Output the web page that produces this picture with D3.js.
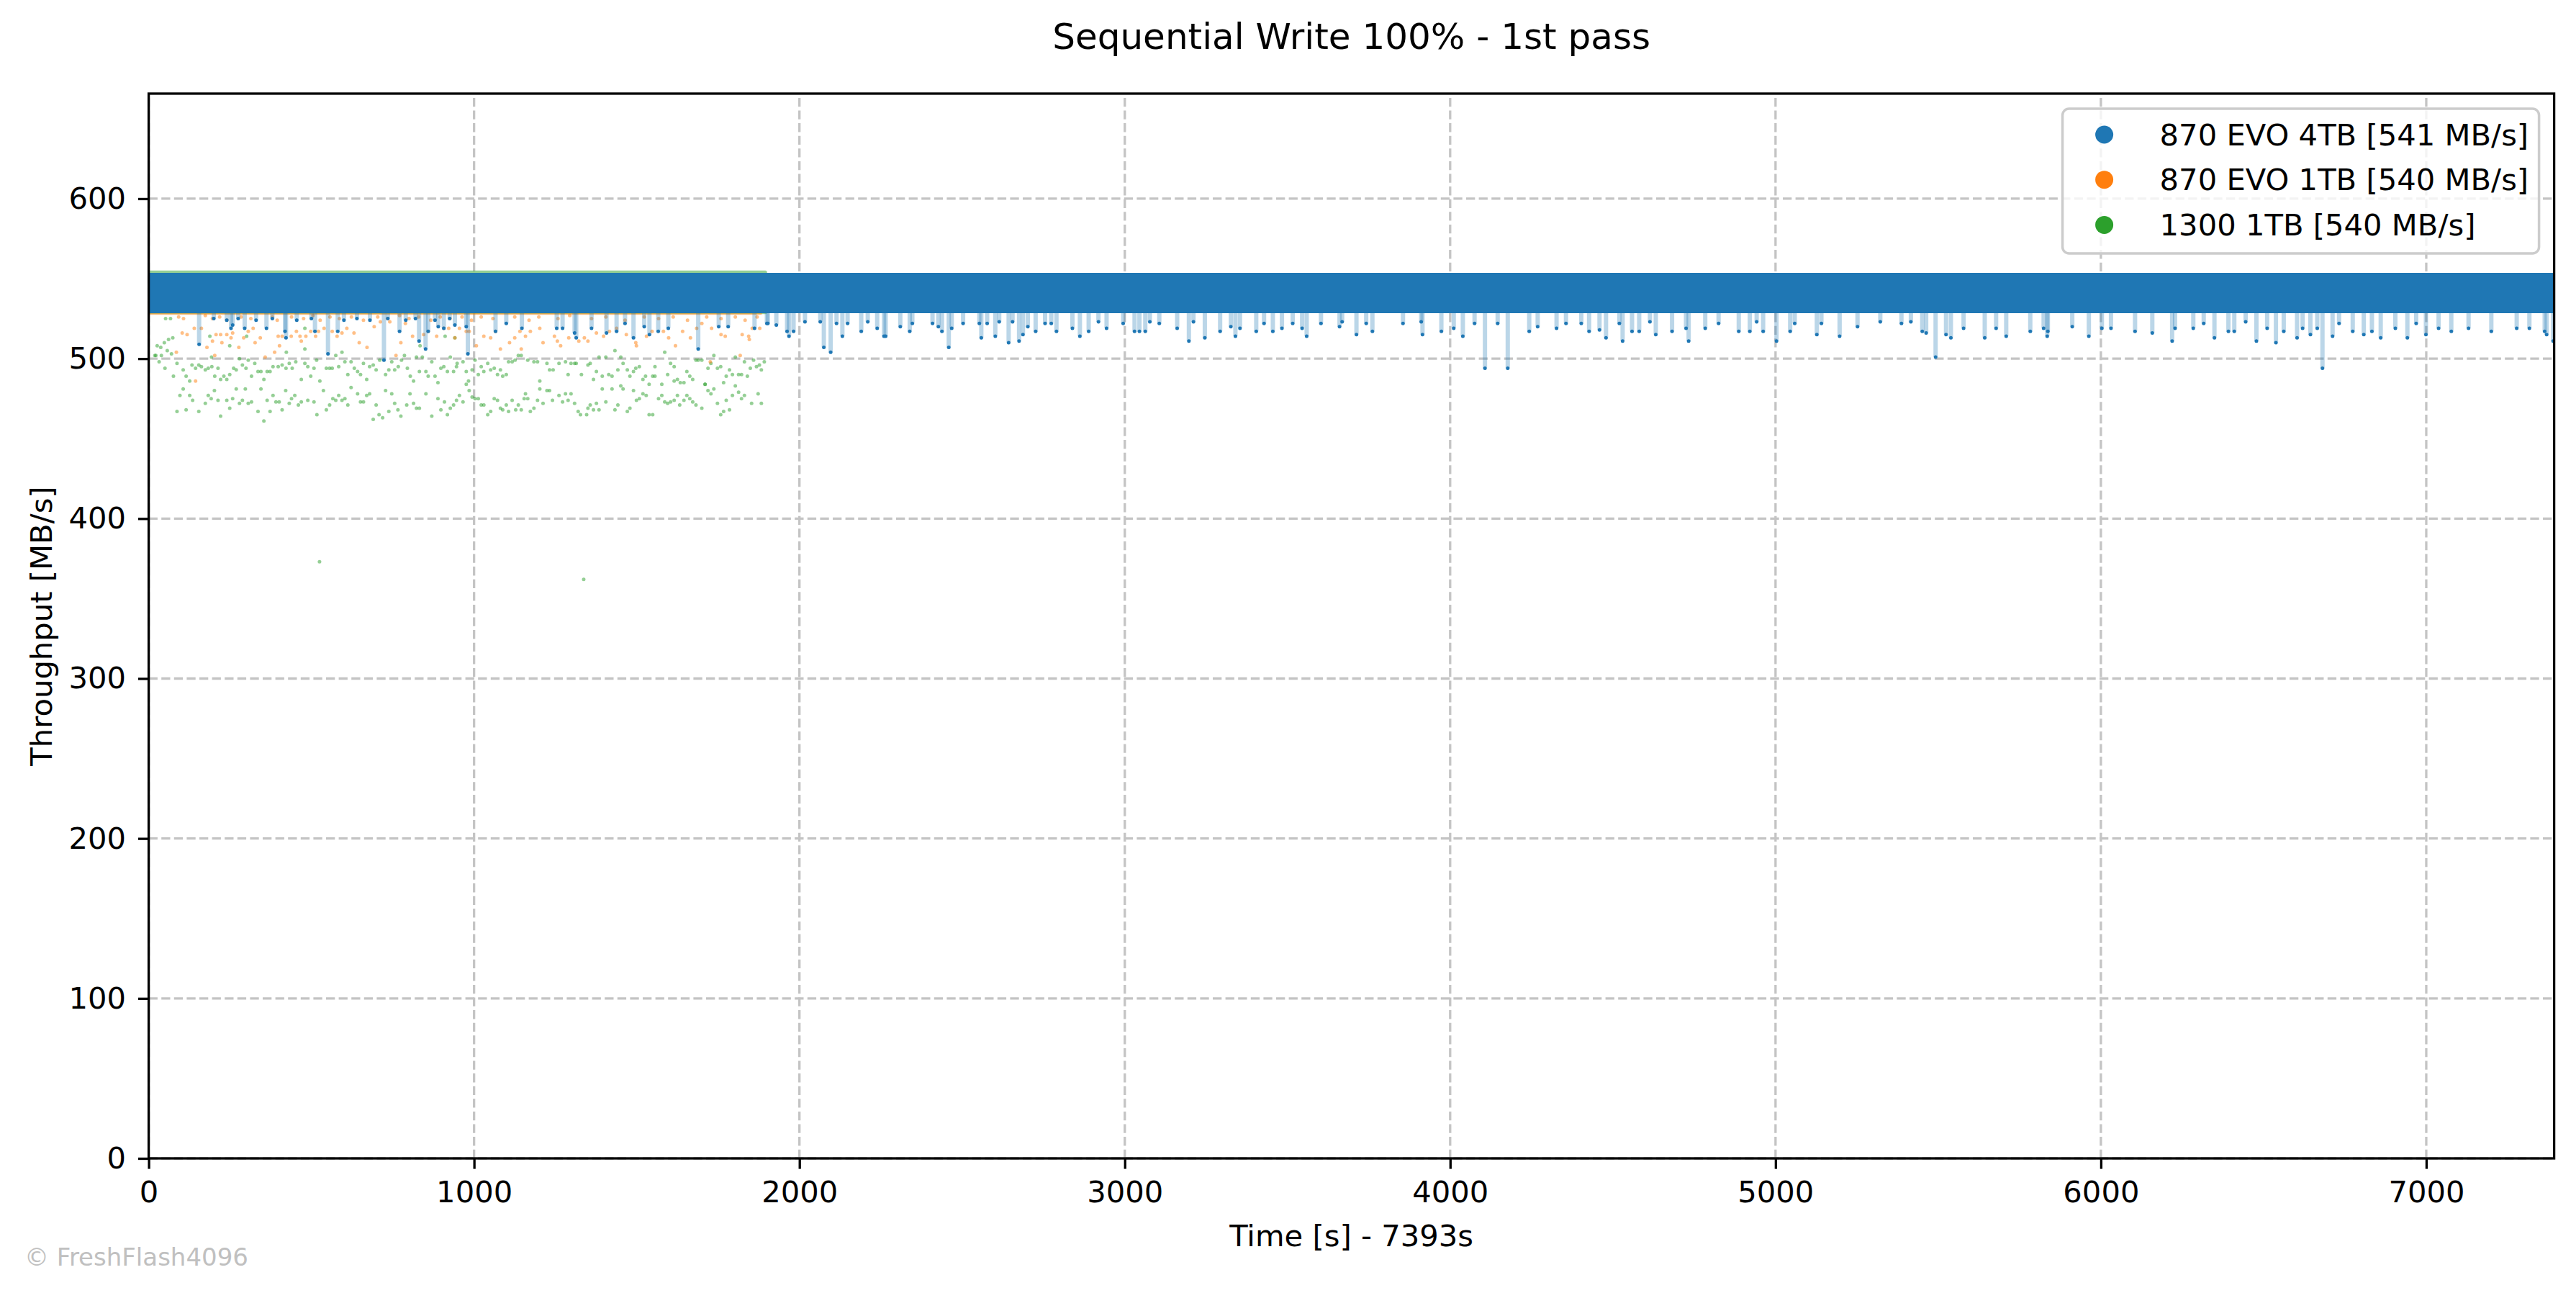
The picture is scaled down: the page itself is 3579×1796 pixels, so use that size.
<!DOCTYPE html>
<html>
<head>
<meta charset="utf-8">
<script src="https://cdnjs.cloudflare.com/ajax/libs/d3/7.8.5/d3.min.js"></script>
<style>
  body { margin: 0; background: #fff; }
  svg { display: block; }
</style>
</head>
<body>
<div id="chart"></div>
<script>
const seriesNames = ['870 EVO 4TB', '870 EVO 1TB', '1300 1TB']
const seriesAvg = [541, 540, 540]
const xTicks = [0, 1000, 2000, 3000, 4000, 5000, 6000, 7000]
const yTicks = [0, 100, 200, 300, 400, 500, 600]
const duration = 7393
const yMax = 665.7

// dense part of each run, as an envelope (s, MB/s)
const evo4BandTime = [0, 1000, 2000, 3000, 4000, 5000, 6000, 7000, 7393]
const evo4BandLo = [529.5, 529.5, 529.5, 529.5, 529.5, 529.5, 529.5, 529.5, 529.5]
const evo4BandHi = [552.5, 552.5, 552.5, 552.5, 552.5, 552.5, 552.5, 552.5, 552.5]
const evo1BandTime = [0, 1880]
const evo1BandLo = [528.5, 528.5]
const evo1BandHi = [552, 552]
const ssdBandTime = [0, 1895]
const ssdBandLo = [529, 529]
const ssdBandHi = [554, 554]

// single samples outside the dense band [s, MB/s]
const evo4Dips = [
  [155, 509], [258, 521], [253, 519], [295, 519], [362, 519], [419, 517], [422, 513], [511, 517], [551, 503], [581, 517],
  [723, 499], [771, 517], [831, 511], [851, 506], [859, 517], [890, 520], [907, 519], [941, 521],
  [200, 525], [240, 524], [275, 525], [330, 524], [380, 525], [455, 524], [500, 525], [600, 524], [640, 525], [680, 524],
  [735, 525], [790, 524], [820, 525], [880, 524], [925, 525],
  [981, 503], [1066, 517], [1314, 513], [1490, 513], [1539, 515], [1689, 506], [1903, 522], [976, 520], [1147, 519],
  [1309, 516], [1407, 516], [1438, 517], [1566, 517], [1597, 519], [1862, 519], [1752, 520], [1781, 520], [1099, 522],
  [1254, 519], [1272, 519], [1361, 519], [1464, 522], [1523, 520],
  [2075, 507], [2096, 504], [1968, 514], [2132, 514], [2459, 507], [2559, 513], [2643, 510], [2675, 511], [2687, 515],
  [2602, 514], [3197, 511], [3246, 513], [3340, 514], [3559, 514], [3712, 515], [2260, 514], [2265, 514], [2190, 517],
  [2339, 517], [1962, 517], [1982, 517], [2438, 517], [2468, 519], [2726, 517], [2790, 517], [2862, 514], [2889, 517],
  [2944, 519], [3030, 517], [3045, 517], [3063, 517], [3293, 517], [3404, 517], [3455, 517], [3483, 519], [3545, 519],
  [3660, 520], [1929, 521], [1900, 522], [2064, 523], [2114, 522], [2017, 523], [2148, 522], [2210, 523], [2239, 519],
  [2310, 520], [2347, 522], [2409, 522], [2427, 520], [2503, 522], [2553, 522], [2577, 522], [2614, 523], [2655, 523],
  [2702, 520], [2755, 522], [2774, 522], [2839, 519], [2919, 523], [2995, 522], [3077, 523], [3106, 522], [3161, 519],
  [3211, 523], [3326, 520], [3354, 519], [3428, 522], [3516, 522], [3603, 522], [3668, 523],
  [4107, 494], [4177, 494], [3761, 517], [3915, 515], [3973, 517], [4039, 514], [4011, 519], [4243, 517], [4327, 519],
  [4427, 517], [4479, 513], [4530, 511], [4559, 517], [4581, 517], [4632, 515], [4682, 517], [4733, 511], [4784, 519],
  [4887, 517], [4921, 517], [4962, 517], [5003, 511], [5045, 517], [5127, 515], [5197, 514], [5492, 501], [5463, 516],
  [5524, 515], [5539, 513], [5451, 517], [4403, 522], [4459, 518], [3911, 523], [3855, 522], [3742, 522], [4075, 522],
  [4146, 522], [4269, 520], [4356, 522], [4520, 522], [4614, 523], [4725, 519], [4825, 522], [4942, 523], [5059, 522],
  [5141, 522], [5252, 520], [5322, 523], [5387, 522], [5416, 523],
  [6681, 494], [5643, 513], [5709, 514], [5835, 514], [5963, 514], [6219, 511], [6349, 513], [6478, 511], [6538, 510],
  [6603, 513], [6712, 514], [6860, 513], [6942, 513], [6999, 515], [7370, 515], [7390, 511], [5578, 519], [5678, 519],
  [5783, 517], [5824, 519], [5837, 517], [5912, 520], [6003, 519], [6031, 519], [6105, 517], [6158, 516], [6228, 519],
  [6284, 519], [6316, 522], [6392, 517], [6410, 517], [6445, 523], [6511, 519], [6562, 517], [6620, 519], [6644, 515],
  [6665, 519], [6732, 522], [6774, 517], [6808, 515], [6833, 517], [6905, 519], [6969, 522], [7038, 519], [7077, 517],
  [7130, 519], [7200, 517], [7278, 519], [7317, 519], [7364, 517]
]

const evo1Points = [
  [103, 516], [118, 515], [85, 504], [140, 519], [162, 519], [179, 507], [196, 511], [203, 502], [207, 515], [221, 515],
  [225, 510], [240, 515], [253, 513], [258, 516], [277, 507], [292, 513], [306, 517], [321, 519], [327, 510], [343, 513],
  [358, 501], [387, 504], [398, 514], [402, 508], [410, 514], [438, 514], [454, 517], [465, 514], [469, 511], [483, 514],
  [498, 517], [513, 514], [522, 517], [539, 519], [564, 517], [579, 514], [594, 516], [609, 519], [631, 516], [647, 510],
  [671, 507], [693, 520], [712, 523], [741, 523], [760, 502], [775, 510], [789, 522], [811, 514], [845, 515], [859, 517],
  [885, 514], [907, 519], [922, 519], [941, 513], [144, 486],
  [955, 519], [976, 517], [985, 517], [1007, 508], [1030, 514], [1051, 513], [1066, 517], [1081, 506], [1109, 510],
  [1125, 513], [1141, 517], [1145, 506], [1158, 514], [1173, 517], [1202, 519], [1212, 510], [1247, 514], [1256, 511],
  [1266, 508], [1291, 513], [1322, 511], [1339, 513], [1350, 511], [1376, 516], [1398, 514], [1416, 517], [1438, 519],
  [1468, 515], [1497, 510], [1499, 508], [1530, 514], [1547, 517], [1582, 517], [1598, 513], [1619, 508], [1641, 517],
  [1665, 513], [1684, 519], [1700, 522], [1726, 498], [1730, 519], [1759, 515], [1772, 514], [1818, 502], [1824, 515],
  [1844, 514], [1846, 512], [1855, 519], [1878, 519],
  [92, 526], [107, 525], [174, 527], [196, 525], [218, 526], [240, 524], [284, 526], [314, 525], [380, 526], [395, 524],
  [439, 526], [476, 525], [505, 527], [527, 524], [557, 526], [586, 525], [623, 526], [660, 524], [704, 526], [734, 525],
  [771, 527], [800, 525], [830, 526], [867, 524], [896, 526], [926, 525], [963, 526], [992, 524], [1022, 526], [1058, 525],
  [1125, 526], [1169, 524], [1199, 526], [1258, 525], [1294, 527], [1361, 525], [1405, 526], [1464, 524], [1523, 526],
  [1567, 525], [1612, 526], [1656, 524], [1715, 526], [1759, 525], [1803, 526], [1833, 524], [1870, 526]
]

const ssdPoints = [
  [19, 502], [26, 508], [37, 507], [48, 510], [61, 512], [74, 513], [57, 505], [22, 502], [39, 502], [70, 503],
  [52, 525], [67, 525], [193, 501], [188, 514], [249, 508], [301, 514], [423, 504], [480, 519], [480, 506], [594, 504],
  [575, 502], [786, 502], [834, 508], [911, 514], [941, 513],
  [32, 498], [50, 494], [76, 489], [87, 497], [106, 493], [115, 489], [126, 486], [133, 496], [144, 494], [154, 496],
  [162, 495], [174, 493], [183, 494], [194, 495], [203, 489], [213, 494], [221, 487], [231, 489], [240, 487], [249, 490],
  [261, 494], [269, 493], [279, 500], [288, 496], [299, 494], [306, 499], [316, 489], [326, 497], [336, 492], [345, 492],
  [354, 487], [364, 492], [373, 492], [382, 495], [398, 495], [410, 496], [422, 494], [432, 497], [441, 494], [452, 498],
  [469, 487], [480, 497], [489, 495], [498, 489], [508, 494], [516, 499], [526, 486], [546, 494], [556, 494], [564, 494],
  [584, 495], [603, 498], [612, 490], [622, 498], [632, 494], [642, 492], [651, 490], [660, 497], [670, 487], [679, 495],
  [690, 496], [699, 493], [710, 499], [728, 490], [738, 493], [747, 498], [756, 493], [767, 495], [777, 499], [795, 494],
  [804, 489], [814, 486], [823, 501], [832, 492], [841, 501], [852, 492], [859, 489], [870, 498], [880, 489], [889, 485],
  [898, 494], [907, 495], [918, 492], [927, 501], [937, 492], [946, 495],
  [106, 481], [96, 477], [87, 467], [115, 468], [126, 477], [135, 474], [154, 467], [174, 472], [183, 477], [192, 475],
  [202, 480], [213, 474], [221, 464], [240, 474], [249, 469], [258, 475], [269, 481], [279, 472], [288, 474], [297, 481],
  [306, 472], [316, 473], [336, 467], [345, 481], [354, 461], [364, 474], [373, 467], [382, 477], [391, 473], [401, 473],
  [410, 468], [421, 480], [432, 472], [439, 475], [449, 477], [460, 471], [469, 473], [489, 474], [508, 473], [517, 465],
  [537, 480], [546, 468], [556, 471], [566, 475], [575, 474], [584, 477], [594, 474], [603, 475], [612, 471], [622, 482],
  [642, 478], [651, 473], [660, 473], [670, 477], [679, 478], [690, 462], [699, 471], [708, 465], [719, 463], [728, 480],
  [738, 467], [747, 478], [756, 472], [766, 468], [775, 464], [793, 471], [803, 478], [814, 472], [823, 469], [832, 469],
  [852, 478], [870, 464], [889, 475], [898, 468], [909, 473], [918, 465], [927, 469], [937, 471], [946, 474],
  [948, 497], [966, 498], [976, 492], [983, 486], [994, 493], [1003, 499], [1013, 490], [1022, 495], [1030, 492],
  [1042, 497], [1051, 493], [1062, 494], [1072, 490], [1081, 493], [1088, 489], [1099, 490], [1106, 498], [1117, 498],
  [1126, 499], [1136, 502], [1145, 502], [1165, 499], [1184, 498], [1195, 498], [1202, 486], [1224, 497], [1232, 493],
  [1243, 493], [1261, 497], [1281, 498], [1289, 490], [1298, 497], [1309, 497], [1314, 497], [1330, 490], [1350, 496],
  [1357, 497], [1367, 487], [1376, 492], [1384, 501], [1394, 489], [1405, 501], [1414, 490], [1424, 489], [1433, 505],
  [1442, 493], [1451, 501], [1458, 497], [1471, 493], [1479, 489], [1490, 492], [1497, 494], [1508, 495], [1519, 487],
  [1527, 489], [1538, 484], [1549, 489], [1556, 489], [1556, 495], [1577, 484], [1586, 504], [1595, 490], [1604, 497],
  [1615, 495], [1615, 486], [1625, 487], [1634, 485], [1645, 485], [1654, 492], [1663, 489], [1672, 487], [1682, 499],
  [1689, 499], [1700, 499], [1710, 484], [1719, 494], [1728, 497], [1737, 502], [1748, 494], [1758, 495], [1767, 485],
  [1775, 489], [1785, 493], [1794, 490], [1803, 501], [1813, 490], [1822, 490], [1831, 498], [1840, 489], [1849, 494],
  [1859, 499], [1868, 495], [1877, 496], [1883, 493], [1892, 498],
  [955, 477], [966, 473], [976, 484], [985, 480], [994, 476], [1003, 475], [1013, 475], [1022, 471], [1030, 471],
  [1042, 465], [1051, 467], [1062, 475], [1072, 474], [1081, 469], [1088, 468], [1099, 471], [1106, 467], [1117, 474],
  [1128, 468], [1136, 471], [1145, 468], [1154, 475], [1158, 478], [1165, 475], [1173, 467], [1184, 469], [1195, 474],
  [1202, 481], [1212, 472], [1224, 480], [1232, 480], [1241, 474], [1261, 477], [1272, 473], [1281, 478], [1289, 474],
  [1298, 478], [1309, 472], [1320, 467], [1327, 465], [1346, 465], [1350, 469], [1357, 471], [1367, 468], [1376, 472],
  [1384, 468], [1394, 481], [1405, 473], [1424, 481], [1433, 468], [1442, 471], [1451, 483], [1458, 481], [1471, 467],
  [1479, 469], [1490, 480], [1499, 474], [1508, 475], [1519, 478], [1529, 477], [1538, 465], [1549, 465], [1567, 475],
  [1577, 477], [1586, 473], [1595, 472], [1604, 473], [1615, 474], [1625, 477], [1632, 471], [1645, 474], [1654, 477],
  [1663, 475], [1672, 473], [1682, 471], [1700, 469], [1710, 484], [1719, 480], [1728, 478], [1737, 481], [1748, 472],
  [1758, 465], [1767, 467], [1775, 474], [1785, 468], [1794, 477], [1803, 483], [1813, 479], [1822, 475], [1831, 477],
  [1853, 472], [1873, 478], [1883, 472],
  [525, 373], [1337, 362]
]

const colors = ['#1f77b4', '#ff7f0e', '#2ca02c']
const font = "'DejaVu Sans', sans-serif"
const W = 3579
const H = 1796
const margin = { left: 206.6, right: 30.4, top: 130, bottom: 187 }
const dotR = 2.5

const x = d3.scaleLinear().domain([0, duration]).range([margin.left, W - margin.right])
const y = d3.scaleLinear().domain([0, yMax]).range([H - margin.bottom, margin.top])

const svg = d3.select('#chart')
  .append('svg')
  .attr('width', W)
  .attr('height', H)
  .style('font-family', font)

svg.append('rect').attr('width', W).attr('height', H).attr('fill', '#fff')

svg.append('defs')
  .append('clipPath')
  .attr('id', 'plot-clip')
  .append('rect')
  .attr('x', margin.left)
  .attr('y', margin.top)
  .attr('width', W - margin.left - margin.right)
  .attr('height', H - margin.top - margin.bottom)

// grid
const grid = svg.append('g')
  .attr('stroke', '#c4c4c4')
  .attr('stroke-width', 3.3)
  .attr('stroke-dasharray', '12.3,5.3')

grid.selectAll('.gx')
  .data(xTicks)
  .join('line')
  .attr('class', 'gx')
  .attr('x1', d => x(d))
  .attr('x2', d => x(d))
  .attr('y1', y(0))
  .attr('y2', y(yMax))

grid.selectAll('.gy')
  .data(yTicks)
  .join('line')
  .attr('class', 'gy')
  .attr('y1', d => y(d))
  .attr('y2', d => y(d))
  .attr('x1', x(0))
  .attr('x2', x(duration))

const plot = svg.append('g').attr('clip-path', 'url(#plot-clip)')

const band = (times, lo, hi) => times.map((t, i) => ({ t, lo: lo[i], hi: hi[i] }))
const area = d3.area()
  .x(d => x(d.t))
  .y0(d => y(d.lo))
  .y1(d => y(d.hi))

const drawBand = (data, color, opacity) => {
  plot.append('path')
    .datum(data)
    .attr('d', area)
    .attr('fill', color)
    .attr('stroke', color)
    .attr('stroke-width', dotR * 2)
    .attr('stroke-linejoin', 'round')
    .attr('opacity', opacity)
}

const drawDots = (data, color, opacity) => {
  plot.append('g')
    .selectAll('circle')
    .data(data)
    .join('circle')
    .attr('cx', d => x(d[0]))
    .attr('cy', d => y(d[1]))
    .attr('r', dotR)
    .attr('fill', color)
    .attr('fill-opacity', opacity)
}

// 1300 1TB
drawBand(band(ssdBandTime, ssdBandLo, ssdBandHi), colors[2], 0.5)
drawDots(ssdPoints, colors[2], 0.5)

// 870 EVO 1TB
drawBand(band(evo1BandTime, evo1BandLo, evo1BandHi), colors[1], 0.5)
drawDots(evo1Points, colors[1], 0.5)

// 870 EVO 4TB: faint line down to each dip, then the markers
const evo4Base = d3.mean(evo4BandLo)
plot.append('g')
  .selectAll('line')
  .data(evo4Dips)
  .join('line')
  .attr('x1', d => x(d[0]))
  .attr('x2', d => x(d[0]))
  .attr('y1', y(evo4Base))
  .attr('y2', d => y(d[1]))
  .attr('stroke', colors[0])
  .attr('stroke-opacity', 0.3)
  .attr('stroke-width', 6)

drawBand(band(evo4BandTime, evo4BandLo, evo4BandHi), colors[0], 1)
drawDots(evo4Dips, colors[0], 1)

// axes
const xAxis = svg.append('g')
  .attr('transform', `translate(0,${y(0)})`)
  .call(d3.axisBottom(x).tickValues(xTicks).tickFormat(d3.format('d')).tickSize(14.6).tickPadding(17).tickSizeOuter(0))
  .attr('font-size', 41.7)
  .attr('font-family', font)

const yAxis = svg.append('g')
  .attr('transform', `translate(${x(0)},0)`)
  .call(d3.axisLeft(y).tickValues(yTicks).tickFormat(d3.format('d')).tickSize(14.6).tickPadding(17).tickSizeOuter(0))
  .attr('font-size', 41.7)
  .attr('font-family', font)

for (const ax of [xAxis, yAxis]) {
  ax.select('.domain').remove()
  ax.selectAll('line').attr('stroke', '#000').attr('stroke-width', 3.3)
  ax.selectAll('text').attr('fill', '#000')
}

svg.append('rect')
  .attr('x', x(0))
  .attr('y', y(yMax))
  .attr('width', x(duration) - x(0))
  .attr('height', y(0) - y(yMax))
  .attr('fill', 'none')
  .attr('stroke', '#000')
  .attr('stroke-width', 3.3)

// labels
svg.append('text')
  .attr('x', (x(0) + x(duration)) / 2)
  .attr('y', 68)
  .attr('text-anchor', 'middle')
  .attr('font-size', 50)
  .text('Sequential Write 100% - 1st pass')

svg.append('text')
  .attr('x', (x(0) + x(duration)) / 2)
  .attr('y', 1731)
  .attr('text-anchor', 'middle')
  .attr('font-size', 41.7)
  .text('Time [s] - 7393s')

svg.append('text')
  .attr('transform', `translate(72,${(y(0) + y(yMax)) / 2}) rotate(-90)`)
  .attr('text-anchor', 'middle')
  .attr('font-size', 41.7)
  .text('Throughput [MB/s]')

svg.append('text')
  .attr('x', 34)
  .attr('y', 1758)
  .attr('font-size', 34)
  .attr('fill', '#c0c0c0')
  .text('\u00a9 FreshFlash4096')

// legend
const legendW = 662
const legendH = 201
const legendX = x(duration) - 21 - legendW
const legendY = y(yMax) + 21

const legend = svg.append('g').attr('transform', `translate(${legendX},${legendY})`)

legend.append('rect')
  .attr('width', legendW)
  .attr('height', legendH)
  .attr('rx', 9)
  .attr('fill', '#fff')
  .attr('fill-opacity', 0.8)
  .attr('stroke', '#cccccc')
  .attr('stroke-width', 3.5)

const rows = legend.selectAll('.row')
  .data(seriesNames)
  .join('g')
  .attr('class', 'row')
  .attr('transform', (d, i) => `translate(0,${36 + i * 62.7})`)

rows.append('circle')
  .attr('cx', 58)
  .attr('r', 12.5)
  .attr('fill', (d, i) => colors[i])

rows.append('text')
  .attr('x', 135)
  .attr('y', 14.5)
  .attr('font-size', 41.7)
  .text((d, i) => `${d} [${seriesAvg[i]} MB/s]`)
</script>
</body>
</html>
